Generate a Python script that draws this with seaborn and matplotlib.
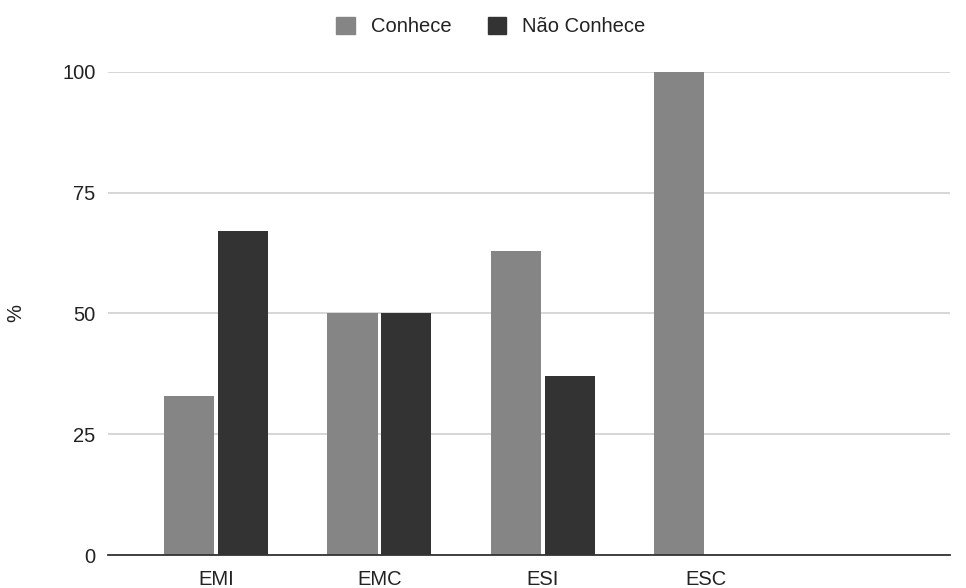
import matplotlib
matplotlib.use("Agg")
import matplotlib.pyplot as plt
import seaborn as sns
import pandas as pd

categories = ["EMI", "EMC", "ESI", "ESC"]
conhece = [33, 50, 63, 100]
nao_conhece = [67, 50, 37, 0]
series_names = ["Conhece", "Não Conhece"]
y_ticks = [0, 25, 50, 75, 100]

df = pd.DataFrame({
    "categoria": categories * 2,
    "valor": conhece + nao_conhece,
    "grupo": [series_names[0]] * len(categories) + [series_names[1]] * len(categories),
})

sns.set_theme(style="white")
plt.rcParams["font.family"] = ["Liberation Sans", "DejaVu Sans"]

fig = plt.figure(figsize=(9.66, 5.88), dpi=100)
ax = fig.add_axes([0.1118, 0.0561, 0.8716, 0.8215])

palette = {series_names[0]: "#858585", series_names[1]: "#333333"}
sns.barplot(data=df, x="categoria", y="valor", hue="grupo", order=categories,
            hue_order=series_names, palette=palette, width=0.66, gap=0.07,
            saturation=1, ax=ax, legend=False, zorder=3, linewidth=0)

ax.set_xlim(-0.66, 4.49)
ax.set_ylim(0, 100)
ax.set_yticks(y_ticks)
ax.yaxis.grid(True, color="#cccccc", linewidth=1.1, zorder=0)
ax.set_axisbelow(True)
for side in ["top", "right", "left"]:
    ax.spines[side].set_visible(False)
ax.spines["bottom"].set_color("#333333")
ax.spines["bottom"].set_linewidth(1.3)
ax.spines["bottom"].set_zorder(4)
ax.tick_params(axis="both", length=0, labelsize=14.5, colors="#222222")
ax.tick_params(axis="y", pad=9)
ax.tick_params(axis="x", pad=11)
ax.set_xlabel("")
ax.set_ylabel("%", fontsize=14.5, color="#222222")
ax.yaxis.set_label_coords(-0.098, 0.5)

handles = [plt.Rectangle((0, 0), 1, 1, color=palette[n]) for n in series_names]
fig.legend(handles, series_names, loc="center", bbox_to_anchor=(0.508, 0.955),
           ncol=2, frameon=False, fontsize=14.5, handlelength=0.9, handleheight=0.9,
           handletextpad=0.8, columnspacing=1.8, labelcolor="#222222")

fig.savefig("out.png", dpi=100)
